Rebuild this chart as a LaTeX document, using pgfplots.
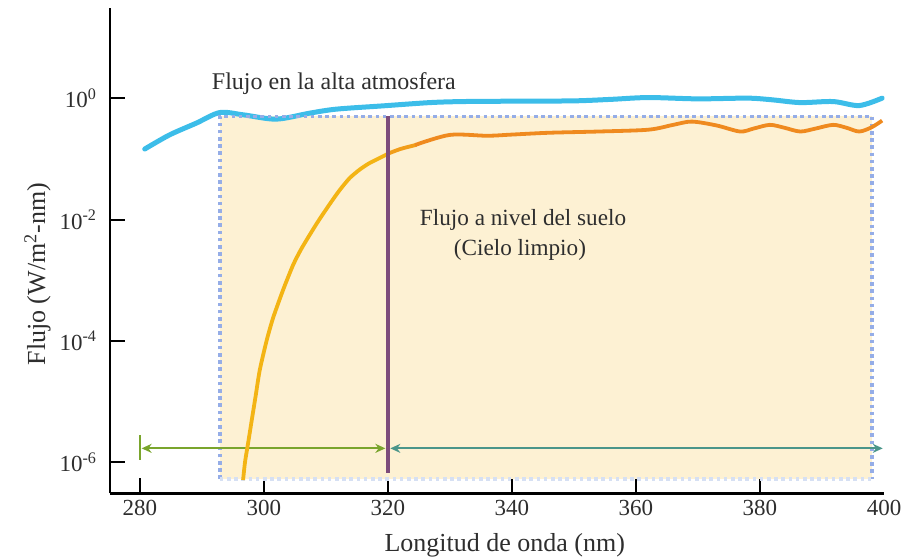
\documentclass[border=0pt]{standalone}
\usepackage{fontspec}
\setmainfont{Liberation Serif}
\usepackage{pgfplots}
\pgfplotsset{compat=1.18}
\usetikzlibrary{arrows.meta}
\definecolor{fillyellow}{HTML}{FDF1D3}
\definecolor{dotblue}{HTML}{95ADE7}
\definecolor{dotbottom}{HTML}{D6E0F3}
\definecolor{bluecurve}{HTML}{3CBDE9}
\definecolor{yellowcurve}{HTML}{F3B414}
\definecolor{midcurve}{HTML}{F19E1A}
\definecolor{orangecurve}{HTML}{EF8A1F}
\definecolor{purpleline}{HTML}{7D4C7B}
\definecolor{greenarrow}{HTML}{7AA52D}
\definecolor{tealarrow}{HTML}{4B968A}
\definecolor{txt}{HTML}{2E2E2E}
\begin{document}
\begin{tikzpicture}
\begin{axis}[
  at={(0,0)}, anchor=south west,
  scale only axis, width=387pt, height=242.5pt,
  xmin=275.2, xmax=400,
  ymode=log, ymin=3.09e-7, ymax=30.2,
  axis x line=bottom, axis y line=left,
  axis line style={-, line width=1.2pt, black},
  tick align=inside, major tick length=7.5pt,
  every tick/.style={black, line width=1pt},
  xtick={280,300,...,380},
  extra x ticks={400}, extra x tick style={major tick length=0pt},
  ytick={1e-6,1e-4,1e-2,1},
  yticklabels={10\textsuperscript{-6},10\textsuperscript{-4},10\textsuperscript{-2},10\textsuperscript{0}},
  yminorticks=false, minor tick num=0,
  /pgf/number format/assume math mode=true,
  /pgf/number format/1000 sep={},
  tick label style={font=\fontsize{11.5}{13}\selectfont, text=txt},
  yticklabel style={xshift=-3pt},
  xlabel={Longitud de onda (nm)},
  ylabel={Flujo (W/m\textsuperscript{2}-nm)},
  label style={font=\fontsize{13}{15}\selectfont, text=txt},
  xlabel style={at={(axis description cs:0.51,-0.107)}, anchor=center},
  ylabel style={at={(axis description cs:-0.0937,0.452)}, anchor=center},
  clip=false,
]
% shaded region
\addplot[fill=fillyellow, draw=none] coordinates {(292.9,5.31e-7) (292.9,0.5) (398.1,0.5) (398.1,5.31e-7)} -- cycle;
% top of atmosphere flux
\addplot[bluecurve, line width=2.5pt, smooth, line cap=round] coordinates {
(280.8,0.145) (284.8,0.248) (289.1,0.387) (292.9,0.579) (296.7,0.531)
(302.0,0.451) (307.4,0.566) (311.7,0.659) (319.2,0.746) (326.8,0.845)
(332.1,0.879) (340,0.891) (350,0.902) (356,0.955) (362,1.023) (370,0.973)
(378,1.0) (382,0.938) (386.5,0.845) (391.8,0.879) (396,0.755) (399.7,1.0)};
% dotted border
\addplot[dotblue, line width=1.9pt, dash pattern=on 1.8pt off 1.8pt] coordinates {(292.9,5.31e-7) (292.9,0.5) (398.1,0.5) (398.1,5.31e-7)};
\addplot[dotbottom, line width=1.9pt, dash pattern=on 1.8pt off 1.8pt] coordinates {(292.9,5.31e-7) (398.1,5.31e-7)};
% arrows
\addplot[greenarrow, line width=1pt, {Stealth[length=5pt,width=4.5pt]}-{Stealth[length=5pt,width=4.5pt]}] coordinates {(280.3,1.70e-6) (319.6,1.70e-6)};
\addplot[greenarrow, line width=1pt] coordinates {(280,2.82e-6) (280,1.10e-6)};
\addplot[tealarrow, line width=1pt, {Stealth[length=5pt,width=4.5pt]}-{Stealth[length=5pt,width=4.5pt]}] coordinates {(320.4,1.70e-6) (399.8,1.70e-6)};
% ground level flux
\addplot[yellowcurve, line width=1.9pt, smooth, tension=0.4] coordinates {
(296.66,5.11e-7) (296.97,1.01e-6) (297.47,2.08e-6) (298.06,4.98e-6) (298.71,1.29e-5)
(299.35,3.32e-5) (300.44,1.0e-4) (301.5,2.40e-4) (303.11,6.93e-4) (304.73,1.79e-3)
(306.13,3.40e-3) (308.5,8.49e-3) (310.65,1.81e-2) (312.26,3.08e-2) (313.87,4.85e-2)
(315.5,6.70e-2) (317.1,8.57e-2) (320.05,0.121)};
\addplot[midcurve, line width=1.9pt, smooth] coordinates {(319.8,0.119) (322,0.145) (324.6,0.170)};
\addplot[orangecurve, line width=1.9pt, smooth] coordinates {
(324.4,0.169) (330,0.248) (336,0.240) (340,0.251) (346,0.269) (354,0.282) (362,0.302)
(366,0.363) (369,0.411) (373,0.355) (376.8,0.282) (379,0.316) (381.6,0.363)
(384,0.324) (386.5,0.282) (389,0.316) (391.8,0.363) (394,0.324) (396,0.282)
(398,0.331) (399.7,0.427)};
% vertical line at 320 nm
\addplot[purpleline, line width=2.1pt] coordinates {(320,0.5) (320,6.6e-7)};
% labels
\node[font=\fontsize{12}{14}\selectfont, text=txt] at (axis cs:311.3,1.72) {Flujo en la alta atmosfera};
\node[font=\fontsize{11.6}{14}\selectfont, text=txt] at (axis cs:341.8,9.86e-3) {Flujo a nivel del suelo};
\node[font=\fontsize{11.6}{14}\selectfont, text=txt] at (axis cs:341.3,3.16e-3) {(Cielo limpio)};
\end{axis}
\pgfresetboundingbox
\path (-55pt,-32.35pt) rectangle (395.5pt,246.65pt);
\end{tikzpicture}
\end{document}
